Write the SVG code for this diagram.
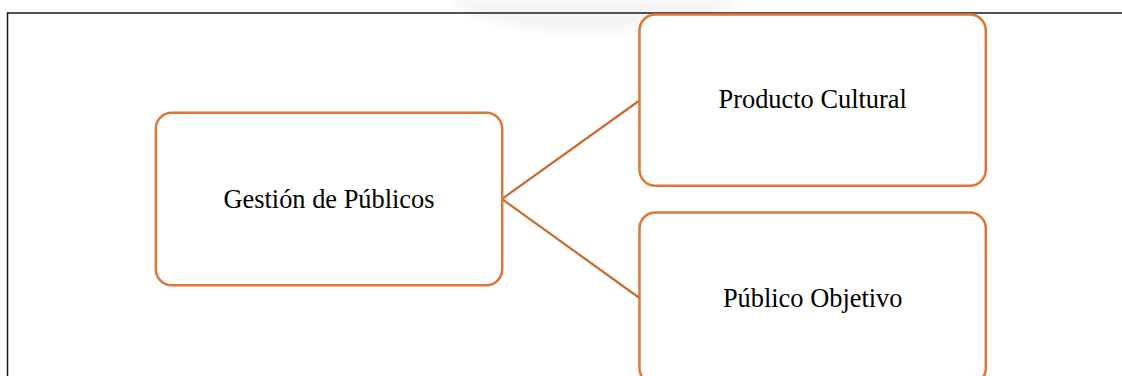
<svg xmlns="http://www.w3.org/2000/svg" width="1122" height="376" viewBox="0 0 1122 376">
  <defs>
    <filter id="soft" x="-20%" y="-50%" width="140%" height="200%">
      <feGaussianBlur stdDeviation="4"/>
    </filter>
  </defs>
  <style>
    .box { fill: #ffffff; stroke: #DE7634; stroke-width: 2.5; }
    .link { fill: none; stroke: #C96A2E; stroke-width: 2.2; }
    .label { font-family: "Liberation Serif", "Times New Roman", serif; font-size: 26.4px; fill: #000000; text-anchor: middle; }
    .frame { fill: none; stroke: #1a1a1a; stroke-width: 1.5; }
  </style>

  <rect width="1122" height="376" fill="#ffffff"/>

  <!-- faint seal in the page background -->
  <g id="watermark" fill="#f4f4f4" filter="url(#soft)">
    <path d="M450 0 C480 22 530 32 585 32 C645 32 705 22 740 0 Z"/>
  </g>

  <!-- page frame -->
  <g id="frame">
    <line class="frame" x1="7.5" y1="13" x2="1122" y2="13"/>
    <line class="frame" x1="7.5" y1="12.3" x2="7.5" y2="376"/>
  </g>

  <!-- connectors -->
  <g id="connectors">
    <line class="link" x1="502" y1="199" x2="639.5" y2="100.5"/>
    <line class="link" x1="502" y1="199" x2="639.5" y2="298"/>
  </g>

  <g id="node-gestion">
    <rect class="box" x="155.8" y="112.8" width="346.4" height="172.4" rx="16" ry="16"/>
    <text class="label" x="329" y="208">Gestión de Públicos</text>
  </g>

  <g id="node-producto">
    <rect class="box" x="639.5" y="14.5" width="346.3" height="171.3" rx="16" ry="16"/>
    <text class="label" x="812.7" y="108.3">Producto Cultural</text>
  </g>

  <g id="node-publico">
    <rect class="box" x="639.5" y="212.5" width="346.3" height="172" rx="16" ry="16"/>
    <text class="label" x="812.7" y="306.7">Público Objetivo</text>
  </g>
</svg>
